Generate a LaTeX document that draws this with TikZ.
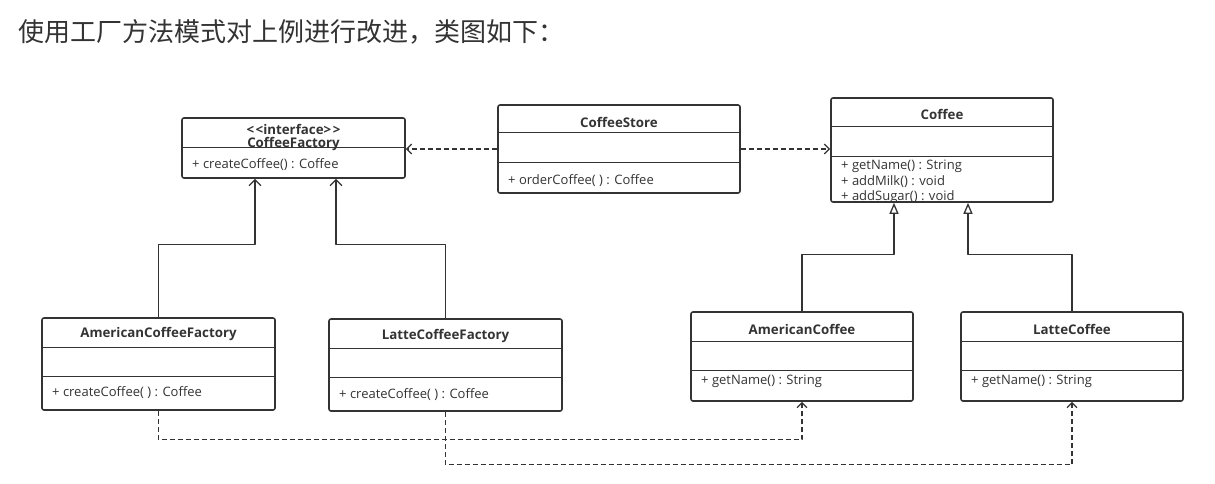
\documentclass[tikz,border=0pt]{standalone}
\usepackage{fontspec}
\setmainfont{Open Sans}
\newfontfamily\cjk{Noto Sans CJK SC}
\usetikzlibrary{arrows.meta}
\definecolor{ink}{HTML}{333333}
\begin{document}
\begin{tikzpicture}[x=1pt, y=-1pt, line join=round,
	cls/.style={draw=ink, line width=1.6pt, rounded corners=2pt, inner sep=0pt},
	sep/.style={draw=ink, line width=1pt},
	clsname/.style={font=\bfseries\fontsize{13.3}{15}\selectfont, text=ink},
	op/.style={anchor=west, inner sep=0pt, font=\fontsize{13}{15}\selectfont, text=ink},
	dep/.style={ink, line width=1.3pt, dash pattern=on 5pt off 3pt, -{Straight Barb[length=5pt,width=10pt]}},
	ext/.style={ink, line width=1.3pt, -{Straight Barb[length=6pt,width=12pt]}},
	impl/.style={ink, line width=1.3pt, -{Triangle[open,length=11pt,width=9pt]}}]
	\useasboundingbox (0,0) rectangle (1215,484);
	\node [anchor=west, inner sep=0pt, font=\cjk\fontsize{26}{30}\selectfont, text=ink] (heading) at (18,32) {使用工厂方法模式对上例进行改进，类图如下：};
	\node [cls, minimum width=223pt, minimum height=60pt] (factory) at (293.5,148) {};
	\node [cls, minimum width=242pt, minimum height=88pt] (store) at (619,149) {};
	\node [cls, minimum width=222pt, minimum height=104pt] (coffee) at (942,150) {};
	\node [cls, minimum width=233pt, minimum height=92pt] (amfactory) at (158.5,364) {};
	\node [cls, minimum width=233pt, minimum height=92pt] (lafactory) at (445.5,365) {};
	\node [cls, minimum width=222pt, minimum height=89pt] (amcoffee) at (802,356.5) {};
	\node [cls, minimum width=222pt, minimum height=89pt] (lacoffee) at (1072,356.5) {};
	\foreach \xa/\xb/\y in {182/405/148, 498/740/133, 498/740/162, 831/1053/127, 831/1053/156, 42/275/347, 42/275/376, 329/562/348, 329/562/377, 691/913/341, 691/913/370, 961/1183/341, 961/1183/370}{
	\draw [sep] (\xa,\y) -- (\xb,\y);
	}
	\node [clsname] (factorytag) at (293.5,129) {<\kern1.5pt<interface>\kern1.5pt>};
	\node [clsname] (factoryname) at (293.5,144) {CoffeeFactory};
	\node [op] (factoryop) at (192,165) {+ createCoffee() : Coffee};
	\node [clsname] (storename) at (619,122) {CoffeeStore};
	\node [op] (storeop) at (508,181) {+ orderCoffee( ) : Coffee};
	\node [clsname] (coffeename) at (942,114) {Coffee};
	\node [op] (coffeeopa) at (841,166) {+ getName() : String};
	\node [op] (coffeeopb) at (841,182) {+ addMilk() : void};
	\node [op] (coffeeopc) at (841,197) {+ addSugar() : void};
	\node [clsname] (amfactoryname) at (158.5,334) {AmericanCoffeeFactory};
	\node [op] (amfactoryop) at (52,393) {+ createCoffee( ) : Coffee};
	\node [clsname] (lafactoryname) at (445.5,336) {LatteCoffeeFactory};
	\node [op] (lafactoryop) at (339,395) {+ createCoffee( ) : Coffee};
	\node [clsname] (amcoffeename) at (802,329) {AmericanCoffee};
	\node [op] (amcoffeeop) at (701,381) {+ getName() : String};
	\node [clsname] (lacoffeename) at (1072,329) {LatteCoffee};
	\node [op] (lacoffeeop) at (971,381) {+ getName() : String};
	\draw [dep] (store.west) -- (store.west -| factory.east);
	\draw [dep] (store.east) -- (store.east -| coffee.west);
	\draw [ext] (amfactory.north) -- ++(0,-73) -| ([xshift=-38.5pt]factory.south);
	\draw [ext] (lafactory.north) -- ++(0,-74) -| ([xshift=42.5pt]factory.south);
	\draw [impl] (amcoffee.north) -- ++(0,-57) -| ([xshift=-48pt]coffee.south);
	\draw [impl] (lacoffee.north) -- ++(0,-57) -| ([xshift=26pt]coffee.south);
	\draw [dep] (amfactory.south) -- ++(0,29) -| (amcoffee.south);
	\draw [dep] (lafactory.south) -- ++(0,53) -| (lacoffee.south);
\end{tikzpicture}
\end{document}
